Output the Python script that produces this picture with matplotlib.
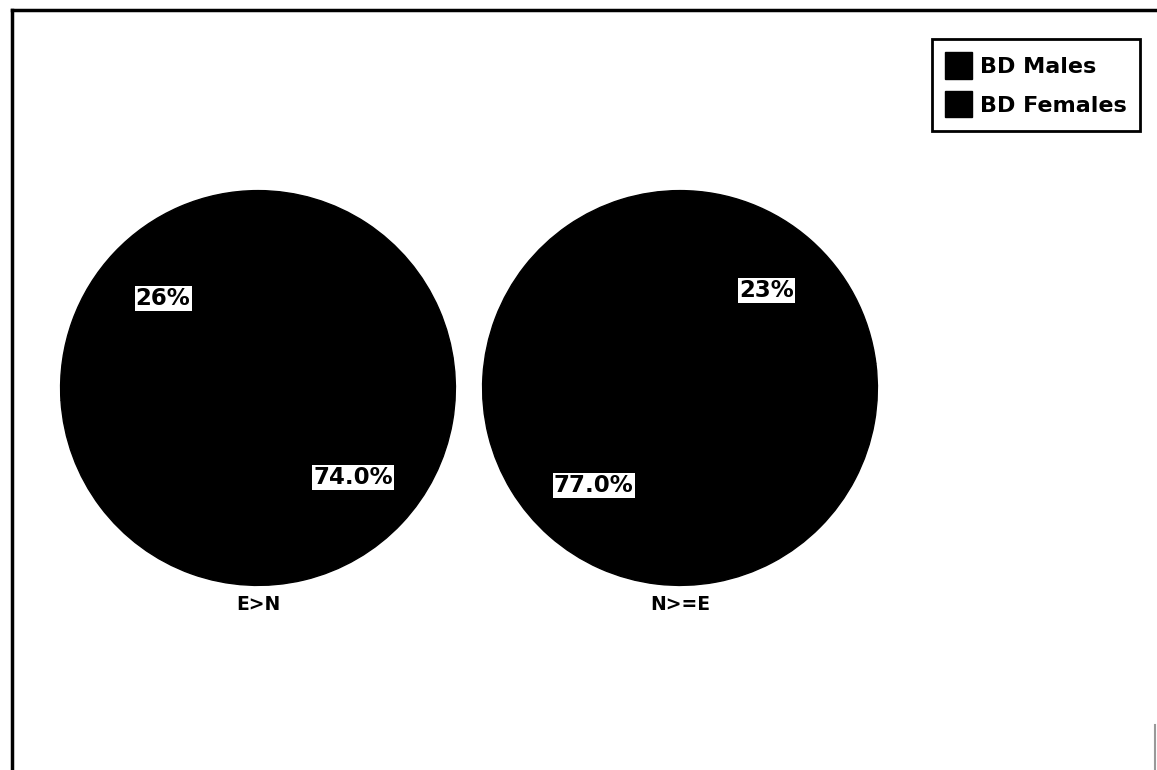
import numpy as np
import matplotlib

matplotlib.use("Agg")
import matplotlib.pyplot as plt
from matplotlib.lines import Line2D
from matplotlib.patches import Patch

W, H = 1157, 770

groups = ["E>N", "N>=E"]
series = ["BD Males", "BD Females"]
males_pct = [26, 23]
females_pct = [74.0, 77.0]
male_fmt = ["{:.0f}%", "{:.0f}%"]
female_fmt = ["{:.1f}%", "{:.1f}%"]

INK = "#000000"
plt.rcParams["font.family"] = ["DejaVu Sans"]


def px_axes(fig, x, y, w, h):
    """Axes placed in pixel units (top-left origin)."""
    return fig.add_axes([x / W, 1 - (y + h) / H, w / W, h / H])


def fx(x):
    return x / W


def fy(y):
    return 1 - y / H


fig = plt.figure(figsize=(W / 100, H / 100), dpi=100)
fig.patch.set_facecolor("white")

# page frame: top and left rules, faint stub on the lower right
fig.add_artist(Line2D([fx(12), 1.0], [fy(10), fy(10)], color=INK, linewidth=2.5,
                      transform=fig.transFigure))
fig.add_artist(Line2D([fx(12), fx(12)], [fy(10), 0.0], color=INK, linewidth=2.5,
                      transform=fig.transFigure))
fig.add_artist(Line2D([fx(1155), fx(1155)], [fy(725), 0.0], color="#999999",
                      linewidth=1.5, transform=fig.transFigure))

centers = [(258, 388), (680, 388)]
R = 198
for i, g in enumerate(groups):
    cx, cy = centers[i]
    ax = px_axes(fig, cx - R, cy - R, 2 * R, 2 * R)
    vals = [males_pct[i], females_pct[i]]
    wedges, _ = ax.pie(vals, colors=[INK, INK], startangle=90,
                       counterclock=(i == 0),
                       wedgeprops=dict(edgecolor=INK, linewidth=1.0))
    ax.set_xlim(-1.003, 1.003)
    ax.set_ylim(-1.003, 1.003)
    ax.set_aspect("auto")
    labels = [male_fmt[i].format(males_pct[i]), female_fmt[i].format(females_pct[i])]
    for w, lab in zip(wedges, labels):
        ang = np.deg2rad((w.theta1 + w.theta2) / 2)
        ax.text(0.66 * np.cos(ang), 0.66 * np.sin(ang), lab,
                ha="center", va="center", fontsize=16.5, fontweight="bold",
                color=INK,
                bbox=dict(facecolor="white", edgecolor="none", pad=0.8))
    fig.text(fx(cx), fy(605), g, ha="center", va="center",
             fontsize=13.5, fontweight="bold", color=INK)

handles = [Patch(facecolor=INK, edgecolor=INK) for _ in series]
leg = fig.legend(handles, series, loc="upper right",
                 bbox_to_anchor=(fx(1140), fy(39)),
                 prop=dict(size=16, weight="bold"), frameon=True,
                 fancybox=False, edgecolor=INK, framealpha=1,
                 handlelength=1.2, handleheight=1.45, handletextpad=0.35,
                 borderpad=0.6, labelspacing=0.55, borderaxespad=0)
leg.get_frame().set_linewidth(2.0)

fig.savefig("out.png", dpi=100)
